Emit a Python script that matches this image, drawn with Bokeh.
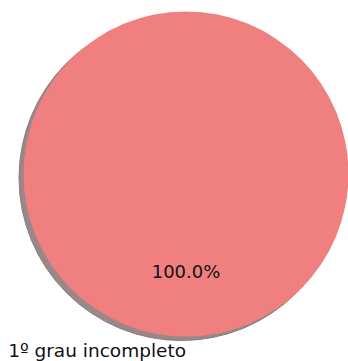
import numpy as np
from bokeh.plotting import figure
from bokeh.models import Range1d, ColumnDataSource
from bokeh.core.properties import value
from bokeh.embed import file_html
from bokeh.resources import INLINE

# data
categories = ["1º grau incompleto"]
values = [1.0]
colors = ["#F08080"]

W, H = 348, 361
cx, cy, r = 185.5, 187.5, 162.5
start_deg = 90.0

vals = np.array(values, dtype=float)
fr = vals / vals.sum()
ends = start_deg + np.cumsum(fr) * 360.0
starts = ends - fr * 360.0
mids = np.deg2rad((starts + ends) / 2.0)

p = figure(width=W, height=H, output_backend="svg", toolbar_location=None,
           x_range=Range1d(0, W), y_range=Range1d(0, H), min_border=0,
           outline_line_color=None, background_fill_color="white",
           border_fill_color="white")
p.axis.visible = False
p.grid.visible = False

src = ColumnDataSource(dict(
    x=[cx] * len(vals), y=[cy] * len(vals),
    sx=[cx - 4.5] * len(vals), sy=[cy - 4] * len(vals),
    start=np.deg2rad(starts), end=np.deg2rad(ends), color=colors,
))

full = len(vals) == 1
if full:
    p.circle(x="sx", y="sy", radius=r, source=src, fill_color="#9a8888",
             line_color="#8c7c7c", line_width=1, fill_alpha=1)
    p.circle(x="x", y="y", radius=r, source=src, fill_color="color", line_color=None)
else:
    p.wedge(x="sx", y="sy", radius=r, start_angle="start", end_angle="end",
            source=src, fill_color="#9a8888", line_color=None)
    p.wedge(x="x", y="y", radius=r, start_angle="start", end_angle="end",
            source=src, fill_color="color", line_color=None)

pct_x = cx + 0.6 * r * np.cos(mids)
pct_y = cy + 0.6 * r * np.sin(mids)
pct_txt = ["%.1f%%" % (f * 100) for f in fr]
p.text(x=pct_x, y=pct_y, text=pct_txt, text_align="center", text_baseline="middle",
       text_font=value("DejaVu Sans"), text_font_size="18px", text_color="#111111")

lab_x = cx + 1.1 * r * np.cos(mids)
lab_y = cy + 1.1 * r * np.sin(mids)
for lx, ly, t, m in zip(lab_x, lab_y, categories, mids):
    al = "right" if np.cos(m) <= 0 else "left"
    p.text(x=[lx], y=[ly + 2.5], text=[t], text_align=al, text_baseline="middle",
           text_font=value("DejaVu Sans"), text_font_size="18.5px", text_color="#111111")

open("out.html", "w").write(file_html(p, INLINE))
